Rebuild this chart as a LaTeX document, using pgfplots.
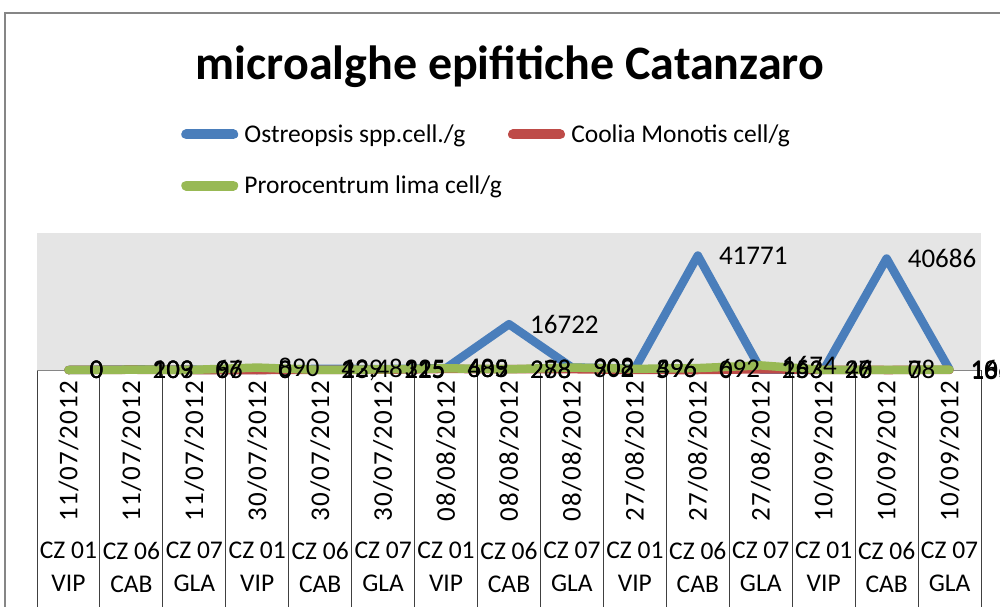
\documentclass[border=0pt]{standalone}
\usepackage{fontspec}
\setmainfont{Carlito}
\usepackage{pgfplots}
\usepackage{pgfplotstable}
\pgfplotsset{compat=1.18}
\definecolor{cblue}{HTML}{4A7EBB}
\definecolor{cred}{HTML}{BE4B48}
\definecolor{cgreen}{HTML}{98B954}
\definecolor{frame}{HTML}{868686}

\pgfplotstableread{
x ost coo pro lo lc lp
1 0 0 0 0 0 0
2 209 103 109 209 103 109
3 96 0 67 96 0 67
4 0 0 890 0 0 890
5 429 12.48 23 429 12,48 23
6 325 115 225 325 115 225
7 685 403 609 685 403 609
8 16722 278 288 16722 278 288
9 908 302 902 908 302 902
10 496 5 396 496 5 396
11 41771 0 692 41771 0 692
12 153 263 1674 153 263 1674
13 27 40 26 27 40 26
14 40686 0 78 40686 0 78
15 165 18 106 165 18 106
}\data

\begin{document}
\begin{tikzpicture}[x=1pt,y=1pt]
\useasboundingbox (0,0) rectangle (1000,606);
\clip (0,0) rectangle (1000,606);
\fill[white] (0,0) rectangle (1000,606);
\draw[frame, line width=2pt] (5,-10) rectangle (1010,593);
\node[font=\fontsize{48}{57}\selectfont\bfseries, anchor=base, inner sep=0pt] at (510,526) {microalghe epifitiche Catanzaro};

\begin{axis}[
  at={(37pt,236pt)}, anchor=south west,
  scale only axis, width=944pt, height=137pt,
  xmin=0.5, xmax=15.5, ymin=0, ymax=50000,
  clip=false,
  axis background/.style={fill=gray!20},
  axis x line*=bottom, axis y line=none,
  x axis line style={-, draw=frame, line width=1pt},
  xtick={1,...,15},
  major tick length=0pt,
  minor xtick={0.5,1.5,...,15.5},
  minor tick length=240pt,
  tick align=outside,
  minor tick style={draw=black!75, line width=0.9pt},
  xticklabels={11/07/2012,11/07/2012,11/07/2012,30/07/2012,30/07/2012,30/07/2012,08/08/2012,08/08/2012,08/08/2012,27/08/2012,27/08/2012,27/08/2012,10/09/2012,10/09/2012,10/09/2012},
  xticklabel style={yshift=-11pt, rotate=90, anchor=east, inner sep=0pt, font=\fontsize{27}{32}\selectfont\addfontfeature{LetterSpace=4}},
  legend columns=2,
  legend cell align=left,
  legend style={at={(axis description cs:0.1483,1.79)}, anchor=north west, draw=none, fill=none,
     inner sep=0pt, outer sep=0pt, column sep=2pt, row sep=32pt,
     font=\fontsize{25.5}{31}\selectfont,
     nodes={inner sep=0pt}},
  legend image code/.code={\draw[#1, line width=10pt, line cap=round] (5pt,0pt) -- (52pt,0pt); \path (0pt,0pt) (57pt,0pt);},
]
\addplot[cblue, line width=8.5pt, line join=round, line cap=round] table[x=x, y=ost] {\data};
\addlegendentry{Ostreopsis spp.cell./g}
\addplot[cred, line width=8.5pt, line join=round, line cap=round] table[x=x, y=coo] {\data};
\addlegendentry{Coolia Monotis cell/g}
\addplot[cgreen, line width=8.5pt, line join=round, line cap=round] table[x=x, y=pro] {\data};
\addlegendentry{Prorocentrum lima cell/g}

\addplot[draw=none, forget plot, nodes near coords, point meta=explicit symbolic,
  nodes near coords align={anchor=west},
  every node near coord/.append style={xshift=21pt, inner sep=0pt, text=black, font=\fontsize{27}{32}\selectfont}]
  table[x=x, y=ost, meta=lo] {\data};
\addplot[draw=none, forget plot, nodes near coords, point meta=explicit symbolic,
  nodes near coords align={anchor=west},
  every node near coord/.append style={xshift=21pt, inner sep=0pt, text=black, font=\fontsize{27}{32}\selectfont}]
  table[x=x, y=coo, meta=lc] {\data};
\addplot[draw=none, forget plot, nodes near coords, point meta=explicit symbolic,
  nodes near coords align={anchor=west},
  every node near coord/.append style={xshift=21pt, inner sep=0pt, text=black, font=\fontsize{27}{32}\selectfont}]
  table[x=x, y=pro, meta=lp] {\data};
\end{axis}

\begin{axis}[
  at={(37pt,236pt)}, anchor=south west,
  scale only axis, width=944pt, height=137pt,
  xmin=0.5, xmax=15.5, ymin=0, ymax=50000,
  axis x line*=bottom, axis y line=none,
  x axis line style={draw=none},
  xtick={1,...,15},
  major tick length=0pt,
  xticklabels={{CZ 01\\VIP},{CZ 06\\CAB},{CZ 07\\GLA},{CZ 01\\VIP},{CZ 06\\CAB},{CZ 07\\GLA},{CZ 01\\VIP},{CZ 06\\CAB},{CZ 07\\GLA},{CZ 01\\VIP},{CZ 06\\CAB},{CZ 07\\GLA},{CZ 01\\VIP},{CZ 06\\CAB},{CZ 07\\GLA}},
  xticklabel style={anchor=north, yshift=-172pt, align=center, inner sep=0pt, font=\fontsize{25.5}{33}\selectfont},
]
\addplot[draw=none] coordinates {(1,0)};
\end{axis}
\end{tikzpicture}
\end{document}
